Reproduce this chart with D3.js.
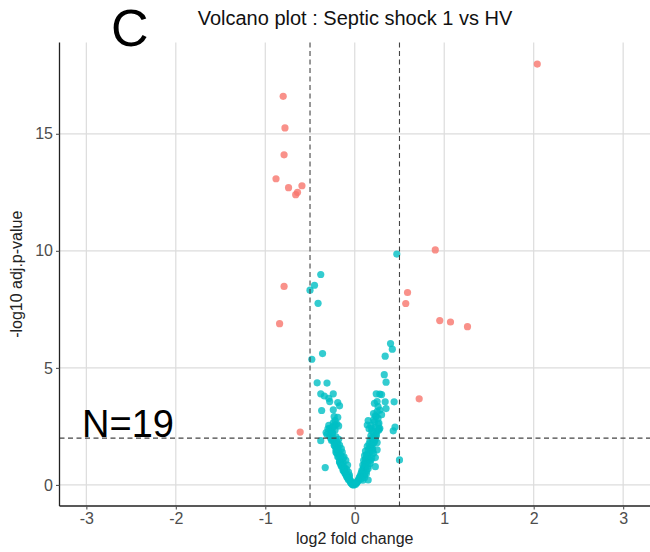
<!DOCTYPE html>
<html>
<head>
<meta charset="utf-8">
<script src="https://cdn.jsdelivr.net/npm/d3@7"></script>
<style>
  html, body { margin: 0; padding: 0; background: #fff; }
  svg { display: block; font-family: "Liberation Sans", Arial, sans-serif; }
</style>
</head>
<body>
<div id="chart"></div>
<script>
// -- Data -------------------------------------------------------------
var xTicks = [-3, -2, -1, 0, 1, 2, 3];
var yTicks = [0, 5, 10, 15];
var fcCut = [-0.5, 0.5];
var pCut = 2;

// significant genes (red), N = 19
var sigX = [2.04, -0.80, -0.78, -0.79, -0.88, -0.74, -0.59, -0.66, -0.64, 0.90,
            -0.79, -0.84, 0.59, 0.57, 0.95, 1.07, 1.26, 0.72, -0.61];
var sigY = [17.98, 16.60, 15.25, 14.10, 13.08, 12.70, 12.78, 12.40, 12.50, 10.04,
            8.48, 6.89, 8.22, 7.75, 7.02, 6.96, 6.76, 3.68, 2.26];

// non-significant genes (teal)
var nsX = [
  // scattered upper points
  0.47, -0.38, -0.45, -0.50, -0.41, 0.40, 0.42, 0.34, -0.48, -0.36,
  0.33, 0.35, -0.42, -0.31, 0.30, 0.34, 0.44, 0.35,
  -0.38, -0.34, -0.29, -0.24, -0.19, -0.17, -0.28, -0.37, -0.24, -0.23,
  -0.19, -0.24, -0.18,
  0.24, 0.28, 0.25, 0.22, 0.26, 0.25, 0.24, 0.15, 0.21, 0.14,
  0.27, 0.28, 0.19, 0.45, 0.43, 0.50,
  -0.33, -0.38, -0.32, -0.28, -0.25, -0.22,
  0.25, 0.25, 0.23, 0.23, 0.15, 0.27,
  // left arm
  -0.30, -0.27, -0.25, -0.22, -0.28, -0.24, -0.21, -0.26, -0.23, -0.20,
  -0.18, -0.22, -0.19, -0.17, -0.21, -0.18, -0.15, -0.20, -0.16, -0.14,
  -0.18, -0.15, -0.12, -0.17, -0.13, -0.10, -0.15, -0.12, -0.08, -0.13,
  -0.09, -0.11, -0.07, -0.09, -0.06, -0.07, -0.05, -0.05, -0.04, -0.03,
  -0.02, -0.01, -0.06, -0.11, -0.13, -0.19, -0.25, -0.29, -0.24, -0.20,
  -0.16, -0.14, -0.12, -0.10, -0.08, -0.05, -0.03, -0.02,
  -0.31, -0.27, -0.23, -0.25, -0.21, -0.19, -0.17, -0.15, -0.13, -0.11,
  -0.09, -0.07, -0.16, -0.20, -0.22,
  // right arm
  0.27, 0.25, 0.23, 0.21, 0.24, 0.19, 0.22, 0.18, 0.20, 0.17,
  0.21, 0.16, 0.19, 0.14, 0.18, 0.15, 0.12, 0.17, 0.13, 0.11,
  0.15, 0.12, 0.10, 0.14, 0.11, 0.09, 0.12, 0.10, 0.08, 0.09,
  0.07, 0.06, 0.05, 0.04, 0.03, 0.02, 0.01, 0.13, 0.16, 0.20,
  0.23, 0.26, 0.22, 0.18, 0.16, 0.19, 0.17, 0.14, 0.12, 0.10,
  0.08, 0.06, 0.04, 0.02, 0.21, 0.18, 0.15, 0.11, 0.09, 0.07,
  0.24, 0.22, 0.20, 0.19, 0.17, 0.15, 0.13, 0.11, 0.09, 0.26,
  0.23, 0.21, 0.30, 0.28
];
var nsY = [
  9.86, 8.99, 8.53, 8.32, 7.76, 6.04, 5.80, 5.50, 5.37, 5.61,
  4.71, 4.39, 4.36, 4.35, 3.86, 3.55, 3.55, 3.26,
  3.89, 3.80, 3.70, 3.89, 3.52, 3.38, 3.56, 3.18, 3.21, 2.92,
  2.89, 2.49, 2.52,
  3.89, 3.88, 3.56, 3.49, 3.35, 3.13, 2.92, 2.75, 2.78, 2.56,
  2.64, 2.42, 2.42, 2.47, 2.31, 1.07,
  0.74, 1.89, 2.24, 2.42, 1.92, 2.56,
  1.81, 1.50, 1.17, 0.78, 0.21, 2.35,
  2.40, 2.30, 2.20, 2.35, 2.10, 2.00, 2.05, 1.90, 1.80, 1.85,
  1.95, 1.65, 1.60, 1.70, 1.50, 1.45, 1.55, 1.35, 1.30, 1.40,
  1.20, 1.10, 1.20, 1.00, 0.95, 1.05, 0.85, 0.75, 0.85, 0.62,
  0.65, 0.50, 0.55, 0.40, 0.42, 0.28, 0.20, 0.12, 0.07, 0.03,
  0.01, 0.00, 0.33, 0.72, 1.15, 1.75, 2.45, 2.55, 2.65, 2.60,
  0.90, 0.80, 0.60, 0.45, 0.30, 0.18, 0.10, 0.05,
  2.15, 2.00, 1.70, 2.25, 1.40, 1.20, 0.98, 0.80, 0.68, 0.55,
  0.35, 0.22, 1.25, 1.55, 2.75,
  2.40, 2.30, 2.45, 2.20, 2.15, 2.30, 2.05, 2.10, 1.95, 1.90,
  1.80, 1.75, 1.70, 1.65, 1.55, 1.50, 1.45, 1.40, 1.30, 1.25,
  1.20, 1.10, 1.05, 1.00, 0.90, 0.85, 0.78, 0.70, 0.62, 0.52,
  0.48, 0.38, 0.30, 0.22, 0.15, 0.08, 0.03, 0.60, 1.10, 1.55,
  1.95, 2.60, 2.70, 2.55, 2.40, 2.00, 1.60, 1.25, 0.95, 0.75,
  0.55, 0.35, 0.18, 0.10, 1.35, 1.05, 0.80, 0.45, 0.40, 0.25,
  2.10, 1.85, 1.45, 1.15, 0.92, 0.70, 0.48, 0.32, 0.20, 2.85,
  2.95, 3.05, 3.00, 3.20
];

// -- Layout -----------------------------------------------------------
var W = 650, H = 552;
var plot = { left: 59.5, right: 650, top: 42.5, bottom: 506 };

var svg = d3.select("#chart").append("svg")
  .attr("width", W).attr("height", H);

var x = d3.scaleLinear().domain([-3.3, 3.3]).range([plot.left, plot.right]);
var y = d3.scaleLinear().domain([-0.9, 18.9]).range([plot.bottom, plot.top]);

// grid
var grid = svg.append("g");
grid.selectAll("line.gx").data(xTicks).join("line")
  .attr("x1", function (d) { return x(d); }).attr("x2", function (d) { return x(d); })
  .attr("y1", plot.top).attr("y2", plot.bottom)
  .attr("stroke", "#dcdcdc").attr("stroke-width", 1.2);
grid.selectAll("line.gy").data(yTicks).join("line")
  .attr("y1", function (d) { return y(d); }).attr("y2", function (d) { return y(d); })
  .attr("x1", plot.left).attr("x2", plot.right)
  .attr("stroke", "#dcdcdc").attr("stroke-width", 1.2);

// points
function drawPts(xs, ys, col) {
  svg.append("g").selectAll("circle")
    .data(xs.map(function (v, i) { return [v, ys[i]]; }))
    .join("circle")
      .attr("cx", function (d) { return x(d[0]); })
      .attr("cy", function (d) { return y(d[1]); })
      .attr("r", 3.6)
      .attr("fill", col)
      .attr("fill-opacity", 0.8);
}
drawPts(nsX, nsY, "#00BFC4");
drawPts(sigX, sigY, "#F8766D");

// threshold lines
var dash = svg.append("g").attr("stroke", "#444").attr("stroke-width", 1.1)
  .attr("stroke-dasharray", "5,3.5");
fcCut.forEach(function (v) {
  dash.append("line").attr("x1", x(v)).attr("x2", x(v))
    .attr("y1", plot.top).attr("y2", plot.bottom);
});
dash.append("line").attr("x1", plot.left).attr("x2", plot.right)
  .attr("y1", y(pCut)).attr("y2", y(pCut));

// axes
var fmt = function (d) { return String(d); };   // plain hyphen minus, as in the original
var xAxis = svg.append("g").attr("transform", "translate(0," + plot.bottom + ")")
  .call(d3.axisBottom(x).tickValues(xTicks).tickSize(3.5).tickPadding(3).tickFormat(fmt));
var yAxis = svg.append("g").attr("transform", "translate(" + plot.left + ",0)")
  .call(d3.axisLeft(y).tickValues(yTicks).tickSize(3.5).tickPadding(3).tickFormat(fmt));
[xAxis, yAxis].forEach(function (a) {
  a.select(".domain").attr("stroke", "#222").attr("stroke-width", 1.3);
  a.selectAll(".tick line").attr("stroke", "#555").attr("stroke-width", 1.1);
  a.selectAll(".tick text").attr("fill", "#4d4d4d")
    .attr("font-size", 16).attr("font-family", "Liberation Sans, Arial, sans-serif");
});
xAxis.select(".domain").attr("d", "M" + plot.left + ",0H" + plot.right);
yAxis.select(".domain").attr("d", "M0," + plot.top + "V" + plot.bottom);

// labels
svg.append("text").attr("x", x(0)).attr("y", 544)
  .attr("text-anchor", "middle").attr("font-size", 16).attr("fill", "#222")
  .text("log2 fold change");
svg.append("text")
  .attr("transform", "translate(22," + ((plot.top + plot.bottom) / 2) + ") rotate(-90)")
  .attr("text-anchor", "middle").attr("font-size", 16).attr("fill", "#222")
  .text("-log10 adj.p-value");
svg.append("text").attr("x", 355).attr("y", 25)
  .attr("text-anchor", "middle").attr("font-size", 20).attr("fill", "#111")
  .text("Volcano plot : Septic shock 1 vs HV");
svg.append("text").attr("x", 111).attr("y", 46)
  .attr("font-size", 52).attr("fill", "#000")
  .text("C");
svg.append("text").attr("x", 82).attr("y", 437)
  .attr("font-size", 38).attr("fill", "#000")
  .text("N=19");
</script>
</body>
</html>
